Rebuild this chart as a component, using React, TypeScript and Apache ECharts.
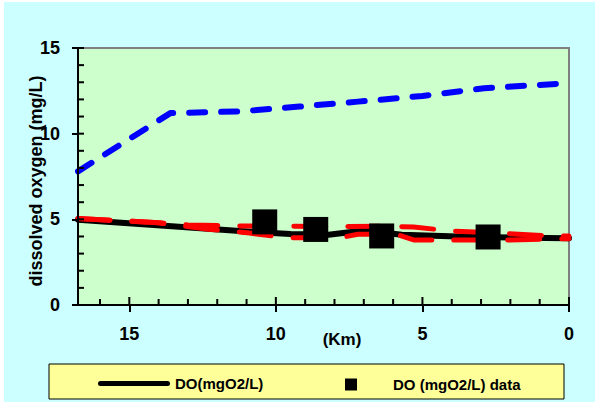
import React, { useEffect, useRef } from "react";
import * as echarts from "echarts";

// ---- data ----
const KM_MAX = 16.75;
const kmTicks = [0, 5, 10, 15];
const kmMinorTicks = [0, 1, 2, 3, 4, 5, 6, 7, 8, 9, 10, 11, 12, 13, 14, 15, 16];
const doTicks = [0, 5, 10, 15];
const doMinorTicks = [0, 1, 2, 3, 4, 5, 6, 7, 8, 9, 10, 11, 12, 13, 14, 15];

const satKm = [16.75, 13.6, 11.2, 9.2, 7.2, 5.0, 2.9, 0];
const satDO = [7.8, 11.2, 11.3, 11.58, 11.87, 12.2, 12.65, 12.95];

const modelKm = [16.75, 11.1, 9.5, 8.2, 7.0, 5.7, 3.8, 1.6, 0];
const modelDO = [4.97, 4.3, 4.15, 4.1, 4.35, 4.1, 4.0, 3.93, 3.9];

const upperKm = [16.75, 14, 13, 11, 8, 6.3, 5.3, 4.0, 2.7, 0.8, 0];
const upperDO = [5.05, 4.8, 4.67, 4.61, 4.58, 4.6, 4.55, 4.32, 4.22, 4.05, 4.02];

const lowerKm = [16.75, 14, 12.3, 10.9, 9.6, 7.8, 7.2, 5.9, 5.3, 2, 0];
const lowerDO = [5.05, 4.8, 4.42, 4.2, 3.92, 3.93, 4.13, 4.13, 3.8, 3.8, 3.87];

const dataKm = [10.38, 8.64, 6.39, 2.76];
const dataDO = [4.85, 4.41, 4.03, 3.97];

const legendLineName = "DO(mgO2/L)";
const legendDataName = "DO (mgO2/L) data";

const pairs = (xs: number[], ys: number[]) => xs.map((x, i) => [x, ys[i]]);

const FONT = '"Liberation Sans", Arial, sans-serif';

export default function App() {
  const ref = useRef<HTMLDivElement>(null);

  useEffect(() => {
    if (!ref.current) return;
    const chart = echarts.init(ref.current, undefined, { renderer: "svg" });
    const lineIcon =
      "path://M2.5,0 L69.5,0 A2.5,2.5 0 0 1 69.5,5 L2.5,5 A2.5,2.5 0 0 1 2.5,0 Z";
    chart.setOption({
      animation: false,
      backgroundColor: "#ccffff",
      textStyle: { fontFamily: FONT },
      grid: {
        left: 74,
        top: 46,
        right: 26,
        bottom: 97,
        show: true,
        backgroundColor: "#ccffcc",
        borderColor: "#808080",
        borderWidth: 2,
        containLabel: false,
      },
      graphic: [
        {
          type: "rect",
          shape: { x: 45, y: 362, width: 515, height: 35 },
          style: { fill: "#ffff99", stroke: "#000", lineWidth: 1 },
          z: 1,
        },
      ],
      legend: [
        {
          data: [{ name: legendLineName, icon: lineIcon }],
          left: 94,
          top: 374,
          padding: 0,
          itemWidth: 72,
          itemHeight: 12,
          itemStyle: { borderWidth: 0, opacity: 1 },
          textStyle: { color: "#000", fontSize: 15, fontWeight: "bold", fontFamily: FONT },
          selectedMode: false,
          z: 5,
        },
        {
          data: [{ name: legendDataName, icon: "rect" }],
          left: 341,
          top: 375,
          padding: 0,
          itemWidth: 12,
          itemHeight: 12,
          itemStyle: { borderWidth: 0, opacity: 1 },
          textStyle: {
            color: "#000",
            fontSize: 15,
            fontWeight: "bold",
            fontFamily: FONT,
            padding: [0, 0, 0, 31],
          },
          selectedMode: false,
          z: 5,
        },
      ],
      xAxis: {
        type: "value",
        min: 0,
        max: KM_MAX,
        interval: 5,
        inverse: true,
        position: "bottom",
        z: 4,
        axisLine: { show: true, onZero: false, lineStyle: { color: "#000", width: 2 } },
        axisTick: {
          show: true,
          inside: false,
          length: 7,
          lineStyle: { color: "#000", width: 2 },
          customValues: kmTicks,
        },
        axisLabel: {
          customValues: kmTicks,
          margin: 20,
          color: "#000",
          fontSize: 18,
          fontWeight: "bold",
          fontFamily: FONT,
        },
        splitLine: { show: false },
        name: "(Km)",
        nameLocation: "middle",
        nameGap: 26,
        nameMoveOverlap: false,
        nameTextStyle: {
          color: "#000",
          fontSize: 17,
          fontWeight: "bold",
          fontFamily: FONT,
          padding: [0, 0, 0, 37],
        },
      },
      yAxis: {
        type: "value",
        min: 0,
        max: 15,
        interval: 5,
        position: "left",
        z: 4,
        axisLine: { show: true, onZero: false, lineStyle: { color: "#000", width: 2 } },
        axisTick: {
          show: true,
          inside: false,
          length: 6,
          lineStyle: { color: "#000", width: 2 },
          customValues: doTicks,
        },
        axisLabel: {
          customValues: doTicks,
          margin: 18,
          color: "#000",
          fontSize: 18,
          fontWeight: "bold",
          fontFamily: FONT,
        },
        splitLine: { show: false },
        name: "dissolved oxygen (mg/L)",
        nameLocation: "middle",
        nameGap: 33,
        nameMoveOverlap: false,
        nameTextStyle: {
          color: "#000",
          fontSize: 18,
          fontWeight: "bold",
          fontFamily: FONT,
          padding: [0, 9, 0, 0],
        },
      },
      series: [
        {
          name: "DO saturation",
          type: "line",
          data: pairs(satKm, satDO),
          symbol: "none",
          color: "#0000ff",
          lineStyle: { color: "#0000ff", width: 6, type: [16, 16], cap: "round", join: "round" },
          z: 2,
        },
        {
          name: legendLineName,
          type: "line",
          data: pairs(modelKm, modelDO),
          symbol: "none",
          color: "#000000",
          lineStyle: { color: "#000000", width: 6, cap: "round", join: "round" },
          z: 2,
        },
        {
          name: "DO upper",
          type: "line",
          data: pairs(upperKm, upperDO),
          symbol: "none",
          color: "#ff0000",
          lineStyle: { color: "#ff0000", width: 5, type: [32, 22], cap: "round", join: "round" },
          z: 3,
        },
        {
          name: "DO lower",
          type: "line",
          data: pairs(lowerKm, lowerDO),
          symbol: "none",
          color: "#ff0000",
          lineStyle: { color: "#ff0000", width: 5, type: [32, 22], cap: "round", join: "round" },
          z: 3,
        },
        {
          name: legendDataName,
          type: "scatter",
          data: pairs(dataKm, dataDO),
          symbol: "rect",
          symbolSize: 25,
          color: "#000000",
          itemStyle: { color: "#000000", opacity: 1 },
          z: 5,
        },
        {
          name: "x inner ticks",
          type: "custom",
          silent: true,
          clip: false,
          z: 6,
          data: kmMinorTicks.map((k) => [k, 0]),
          renderItem: (_params: any, api: any) => {
            const k = api.value(0);
            const p = api.coord([k, 0]);
            const len = k % 5 === 0 ? 8 : 6;
            return {
              type: "rect",
              shape: { x: p[0] - 1, y: p[1] - len, width: 2, height: len },
              style: { fill: "#000000" },
            };
          },
        },
        {
          name: "y inner ticks",
          type: "custom",
          silent: true,
          clip: false,
          z: 6,
          data: doMinorTicks.map((d) => [KM_MAX, d]),
          renderItem: (_params: any, api: any) => {
            const p = api.coord([api.value(0), api.value(1)]);
            return {
              type: "rect",
              shape: { x: p[0], y: p[1] - 1, width: 6, height: 2 },
              style: { fill: "#000000" },
            };
          },
        },
      ],
    });
    return () => chart.dispose();
  }, []);

  return (
    <div
      style={{
        position: "fixed",
        left: 0,
        top: 0,
        width: 595,
        height: 402,
        background: "#ffffff",
        overflow: "hidden",
      }}
    >
      <div
        ref={ref}
        style={{ position: "absolute", left: 4, top: 2, width: 591, height: 400 }}
      />
    </div>
  );
}
